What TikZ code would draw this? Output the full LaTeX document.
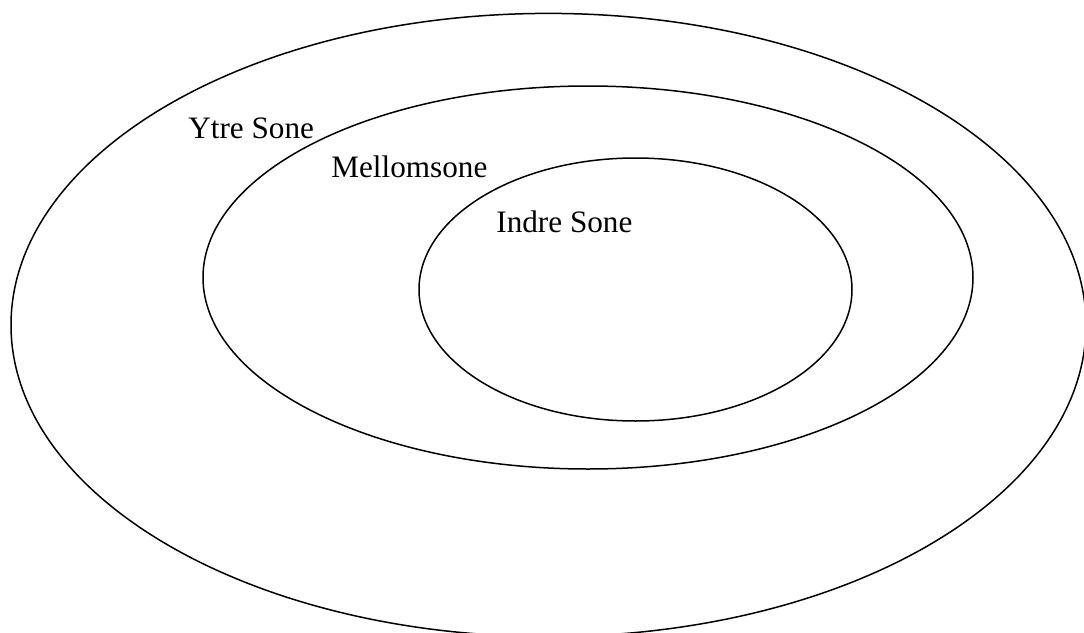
\documentclass[tikz,border=0pt]{standalone}
\usepackage{fontspec}
\setmainfont{Liberation Serif}
\usetikzlibrary{shapes.geometric}

\begin{document}
\begin{tikzpicture}[x=0.5pt,y=-0.5pt,
    sone/.style={draw,ellipse,inner sep=0pt,line width=0.75pt},
    sonetekst/.style={anchor=base west,inner sep=0pt,font=\fontsize{15.6}{18}\selectfont}]
        \useasboundingbox (0,0) rectangle (1084,633);

        \node[sone, minimum width=537.5pt, minimum height=311.6pt] (ytre) at (548.5,325) {};
        \node[sone, minimum width=385pt, minimum height=191.5pt] (mellom) at (588,277.5) {};
        \node[sone, minimum width=216.5pt, minimum height=131.5pt] (indre) at (635.5,289.5) {};

        \node[sonetekst] (ytretekst) at (188,138) {Ytre Sone};
        \node[sonetekst] (mellomtekst) at (331,177) {Mellomsone};
        \node[sonetekst] (indretekst) at (496,232) {Indre Sone};
      \end{tikzpicture}
\end{document}
